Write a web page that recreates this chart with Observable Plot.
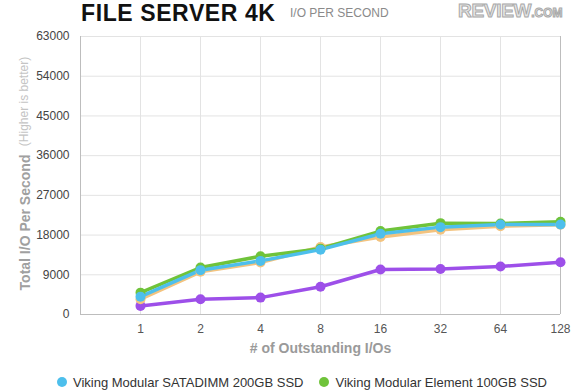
<!DOCTYPE html>
<html>
<head>
<meta charset="utf-8">
<script src="https://cdn.jsdelivr.net/npm/d3@7"></script>
<script src="https://cdn.jsdelivr.net/npm/@observablehq/plot@0.6"></script>
<style>
  html, body { margin: 0; padding: 0; background: #fff; }
  body { width: 580px; height: 390px; overflow: hidden; font-family: "Liberation Sans", Arial, sans-serif; }
  #header { position: relative; height: 20px; }
  #title { position: absolute; left: 81px; top: 0px; font-size: 23px; font-weight: bold; color: #111; letter-spacing: 0.6px; white-space: nowrap; }
  #subtitle { position: absolute; left: 290px; top: 6px; font-size: 12px; color: #8a8a8a; white-space: nowrap; }
  #logo { position: absolute; left: 458px; top: 0px; white-space: nowrap; color: #e6e6e6; -webkit-text-stroke: 1px #a9a9a9; font-weight: bold; }
  #logo .big { font-size: 19px; letter-spacing: -0.3px; }
  #logo .small { font-size: 12px; }
  #legend { display: flex; flex-wrap: wrap; padding: 3px 0 0 57px; font-size: 13px; color: #333; width: 520px; }
  .item { display: flex; align-items: center; margin-right: 16px; white-space: nowrap; height: 18px; }
  .sw { width: 10px; height: 10px; border-radius: 50%; margin-right: 6px; }
</style>
</head>
<body>
<div id="header">
  <div id="title">FILE SERVER 4K</div>
  <div id="subtitle">I/O PER SECOND</div>
  <div id="logo"><span class="big">REVIEW</span><span class="small">.COM</span></div>
</div>
<div id="chart"></div>
<div id="legend"></div>
<script>
const categories = ["1", "2", "4", "8", "16", "32", "64", "128"];
const yTicks = [0, 9000, 18000, 27000, 36000, 45000, 54000, 63000];

const seriesNames = [
  "Viking Modular SATADIMM 200GB SSD",
  "Viking Modular Element 100GB SSD",
  "Series 3",
  "Series 4"
];
const seriesColors = ["#4dbfec", "#6fc33a", "#f3c37f", "#9d4fe9"];

const satadimmValues = [4050, 10050, 12150, 14700, 18300, 19800, 20400, 20400];
const elementValues  = [4950, 10650, 13200, 14925, 18900, 20700, 20625, 21000];
const orangeValues   = [3450, 9675, 11775, 15300, 17550, 19200, 20025, 20325];
const purpleValues   = [1950, 3450, 3825, 6300, 10200, 10300, 10875, 11850];

const seriesValues = [satadimmValues, elementValues, orangeValues, purpleValues];
const drawOrder = [3, 2, 1, 0];

const data = [];
for (const s of drawOrder) {
  categories.forEach((c, i) => data.push({series: seriesNames[s], cat: c, value: seriesValues[s][i]}));
}

const xDomain = [""].concat(categories);

const chart = Plot.plot({
  width: 580,
  height: 350,
  marginLeft: 80,
  marginRight: 20,
  marginTop: 16,
  marginBottom: 56,
  style: {fontFamily: "'Liberation Sans', Arial, sans-serif", fontSize: "12px", color: "#444", background: "#fff"},
  x: {type: "point", domain: xDomain, padding: 0},
  y: {domain: [0, 63000]},
  color: {domain: seriesNames, range: seriesColors},
  marks: [
    Plot.gridY(yTicks, {stroke: "#e3e3e3", strokeOpacity: 1}),
    Plot.gridX(xDomain, {stroke: "#e3e3e3", strokeOpacity: 1}),
    Plot.ruleX([xDomain[0], xDomain[xDomain.length - 1]], {stroke: "#bdbdbd"}),
    Plot.ruleY([0], {stroke: "#bdbdbd"}),
    Plot.axisY(yTicks, {tickSize: 0, tickPadding: 11, fill: "#444", label: null, tickFormat: d => String(d)}),
    Plot.axisX(categories, {tickSize: 0, tickPadding: 10, fill: "#555", label: null}),
    Plot.line(data, {x: "cat", y: "value", z: "series", stroke: "series", strokeWidth: 3.5, strokeLinejoin: "round", strokeLinecap: "round"}),
    Plot.dot(data, {x: "cat", y: "value", fill: "series", r: 5}),
    Plot.text(["# of Outstanding I/Os"], {frameAnchor: "bottom", dy: 38, text: d => d, fill: "#9a9a9a", fontSize: 14, fontWeight: "bold"}),
    Plot.text(["Total I/O Per Second"], {frameAnchor: "left", dx: -55, dy: 47, rotate: -90, text: d => d, fill: "#a0a0a0", fontSize: 14, fontWeight: "bold", textAnchor: "middle"}),
    Plot.text(["(Higher is better)"], {frameAnchor: "left", dx: -56, dy: -74, rotate: -90, text: d => d, fill: "#c4c4c4", fontSize: 12, textAnchor: "middle"})
  ]
});
document.getElementById("chart").appendChild(chart);

const legend = document.getElementById("legend");
seriesNames.slice(0, 2).forEach((name, i) => {
  const item = document.createElement("div");
  item.className = "item";
  const sw = document.createElement("div");
  sw.className = "sw";
  sw.style.background = seriesColors[i];
  const label = document.createElement("span");
  label.textContent = name;
  item.appendChild(sw);
  item.appendChild(label);
  legend.appendChild(item);
});
</script>
</body>
</html>
